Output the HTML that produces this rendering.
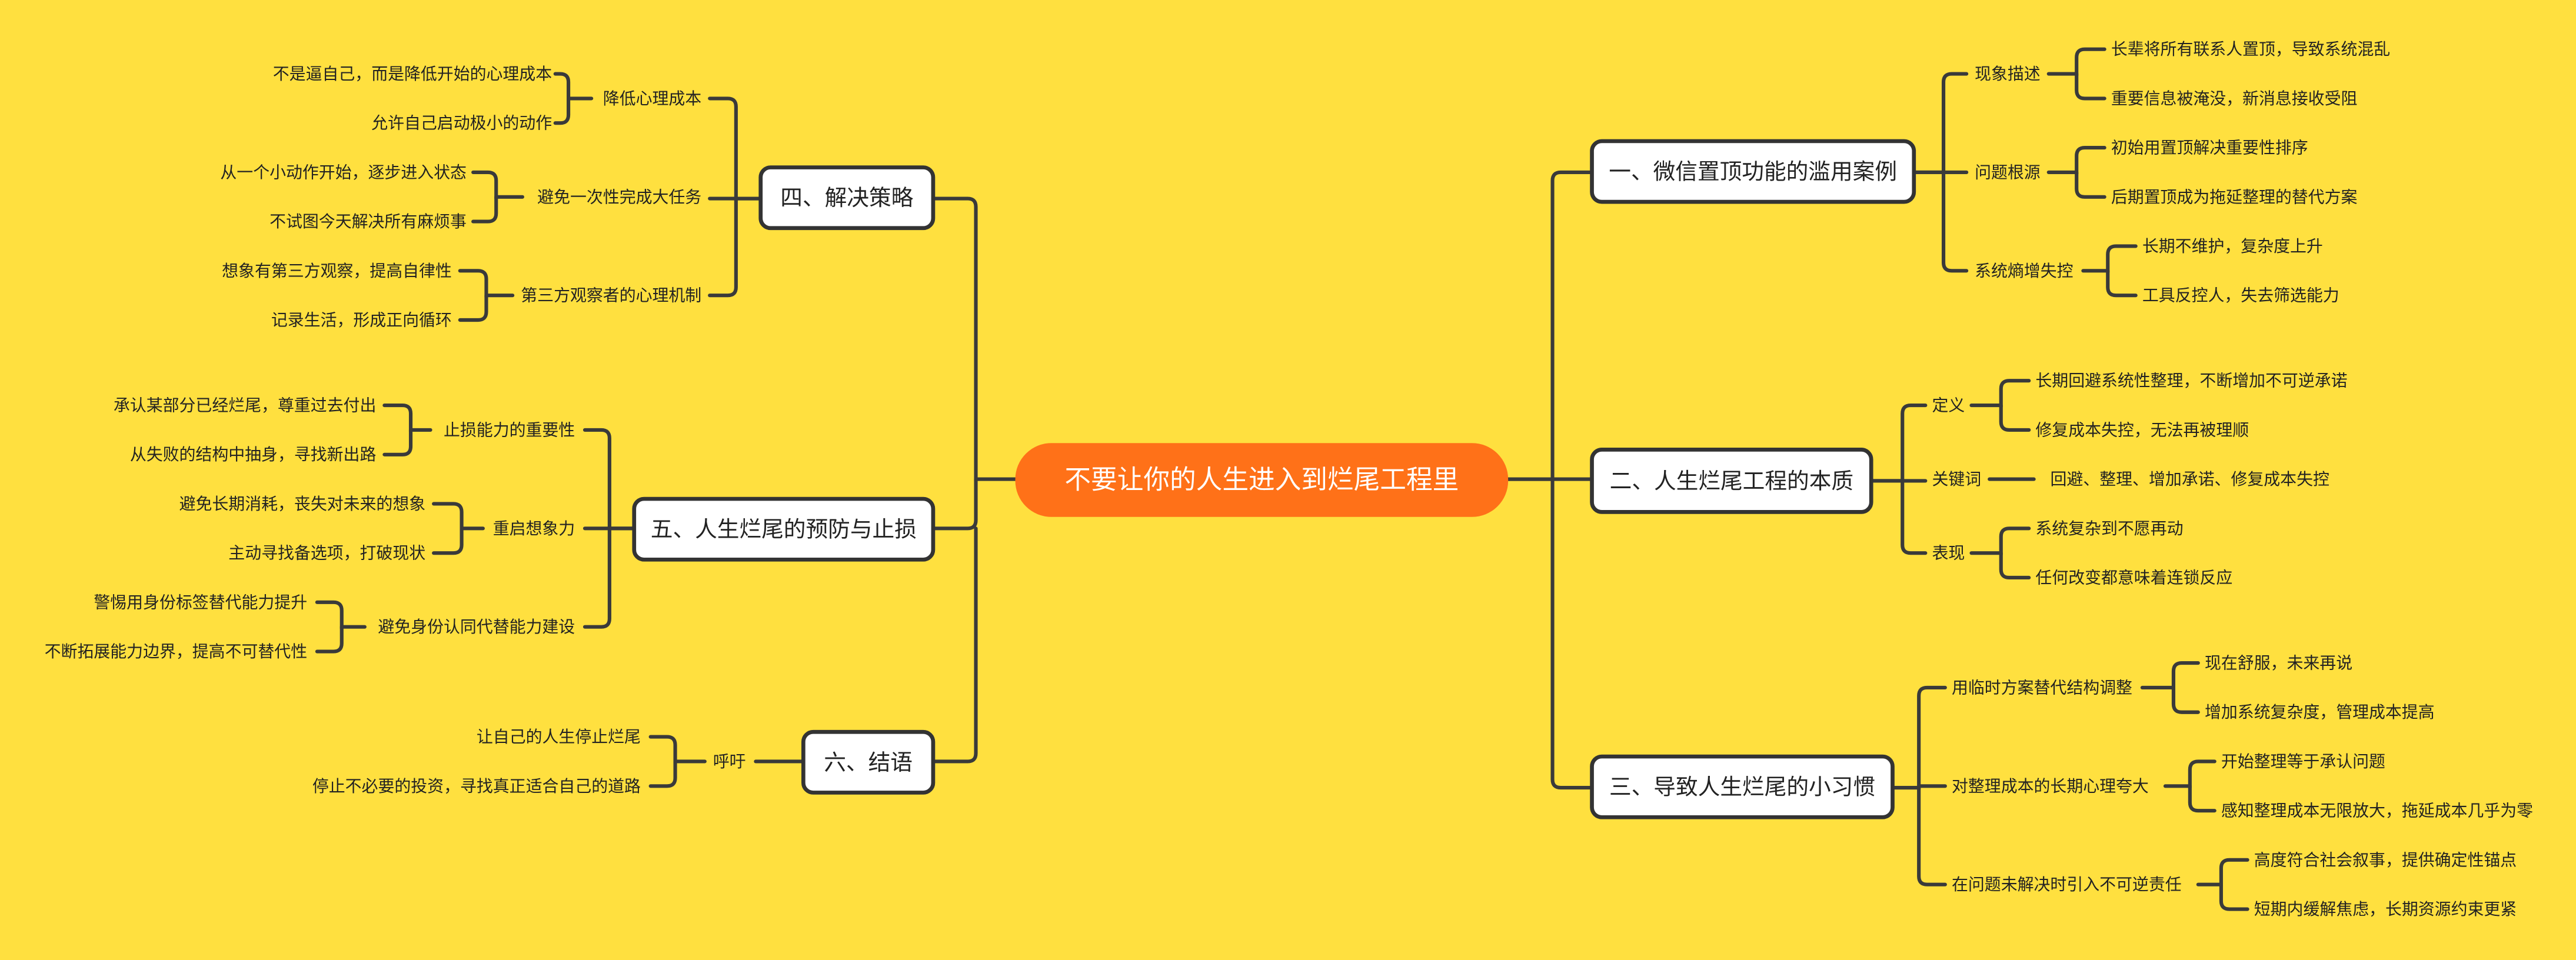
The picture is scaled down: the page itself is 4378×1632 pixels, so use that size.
<!DOCTYPE html>
<html><head><meta charset="utf-8"><style>
html,body{margin:0;padding:0;background:#FFE03F;}
svg{display:block;}
text{font-family:"Liberation Sans","Noto Sans CJK SC",sans-serif;fill:#222;dominant-baseline:central;}
.l{font-size:10px;}
.k{font-size:10px;}
.m{font-size:13.5px;}
.r{text-anchor:end;}
path{fill:none;stroke:#3a3a3a;stroke-width:2.2;stroke-linecap:round;}
rect.n{fill:#fff;stroke:#333;stroke-width:2.4;}
</style></head><body>
<svg width="4378" height="1632" viewBox="0 0 1568 585" preserveAspectRatio="none" xmlns="http://www.w3.org/2000/svg">
<rect width="1568" height="585" fill="#FFE03F"/>
<path d="M918 292 H945 V110 Q945 105 950 105 H969"/>
<path d="M918 292 H969"/>
<path d="M945 292 V475 Q945 480 950 480 H969"/>
<path d="M618 292 H594 V126 Q594 121 589 121 H568"/>
<path d="M594 292 V317 Q594 322 589 322 H568"/>
<path d="M594 322 V459 Q594 464 589 464 H568"/>

<path d="M1165 105 H1183 V50 Q1183 45 1188 45 H1197"/>
<path d="M1165 105 H1197"/>
<path d="M1183 105 V160 Q1183 165 1188 165 H1197"/>
<path d="M1247 45 H1264 V35 Q1264 30 1269 30 H1281"/>
<path d="M1264 45 V55 Q1264 60 1269 60 H1281"/>
<path d="M1247 105 H1264 V95 Q1264 90 1269 90 H1281"/>
<path d="M1264 105 V115 Q1264 120 1269 120 H1281"/>
<path d="M1268 165 H1283 V155 Q1283 150 1288 150 H1300"/>
<path d="M1283 165 V175 Q1283 180 1288 180 H1300"/>

<path d="M1139 293 H1158 V252 Q1158 247 1163 247 H1172"/>
<path d="M1139 293 H1172"/>
<path d="M1158 293 V332 Q1158 337 1163 337 H1172"/>
<path d="M1200 247 H1218 V237 Q1218 232 1223 232 H1235"/>
<path d="M1218 247 V257 Q1218 262 1223 262 H1235"/>
<path d="M1211 292 H1238"/>
<path d="M1200 337 H1218 V327 Q1218 322 1223 322 H1235"/>
<path d="M1218 337 V347 Q1218 352 1223 352 H1235"/>

<path d="M1152 480 H1168 V424 Q1168 419 1173 419 H1184"/>
<path d="M1152 480 H1168 V534 Q1168 539 1173 539 H1184"/>
<path d="M1168 479 H1184"/>
<path d="M1304 419 H1323 V409 Q1323 404 1328 404 H1338"/>
<path d="M1323 419 V429 Q1323 434 1328 434 H1338"/>
<path d="M1318 479 H1333 V469 Q1333 464 1338 464 H1348"/>
<path d="M1333 479 V489 Q1333 494 1338 494 H1348"/>
<path d="M1338 539 H1352 V529 Q1352 524 1357 524 H1368"/>
<path d="M1352 539 V549 Q1352 554 1357 554 H1368"/>

<path d="M463 121 H448 V65 Q448 60 443 60 H432"/>
<path d="M463 121 H432"/>
<path d="M448 121 V175 Q448 180 443 180 H432"/>
<path d="M360 60 H346 V50 Q346 45 341 45 H338"/>
<path d="M346 60 V70 Q346 75 341 75 H338"/>
<path d="M318 120 H302 V110 Q302 105 297 105 H288"/>
<path d="M302 120 V130 Q302 135 297 135 H288"/>
<path d="M312 180 H296 V170 Q296 165 291 165 H280"/>
<path d="M296 180 V190 Q296 195 291 195 H280"/>

<path d="M386 322 H371 V267 Q371 262 366 262 H356"/>
<path d="M386 322 H356"/>
<path d="M371 322 V377 Q371 382 366 382 H356"/>
<path d="M262 262 H250 V252 Q250 247 245 247 H234"/>
<path d="M250 262 V272 Q250 277 245 277 H234"/>
<path d="M294 322 H281 V312 Q281 307 276 307 H264"/>
<path d="M281 322 V332 Q281 337 276 337 H264"/>
<path d="M222 382 H208 V372 Q208 367 203 367 H193"/>
<path d="M208 382 V392 Q208 397 203 397 H193"/>

<path d="M489 464 H460"/>
<path d="M429 464 H411 V454 Q411 449 406 449 H396"/>
<path d="M411 464 V474 Q411 479 406 479 H396"/>

<rect x="618" y="270" width="300" height="45" rx="22" fill="#FF7118"/>
<text x="768" y="292.5" style="font-size:16px;fill:#fff;text-anchor:middle;">不要让你的人生进入到烂尾工程里</text>

<rect class="n" x="969" y="86" width="196" height="37" rx="6"/>
<text class="m" x="1067" y="104.5" text-anchor="middle">一、微信置顶功能的滥用案例</text>
<rect class="n" x="969" y="274" width="170" height="38" rx="6"/>
<text class="m" x="1054" y="293" text-anchor="middle">二、人生烂尾工程的本质</text>
<rect class="n" x="969" y="461" width="183" height="37" rx="6"/>
<text class="m" x="1060.5" y="479.5" text-anchor="middle">三、导致人生烂尾的小习惯</text>
<rect class="n" x="463" y="102" width="105" height="37" rx="6"/>
<text class="m" x="515.5" y="120.5" text-anchor="middle">四、解决策略</text>
<rect class="n" x="386" y="304" width="182" height="37" rx="6"/>
<text class="m" x="477" y="322.5" text-anchor="middle">五、人生烂尾的预防与止损</text>
<rect class="n" x="489" y="446" width="79" height="37" rx="6"/>
<text class="m" x="528.5" y="464.5" text-anchor="middle">六、结语</text>

<text class="k" x="1202" y="45">现象描述</text>
<text class="k" x="1202" y="105">问题根源</text>
<text class="k" x="1202" y="165">系统熵增失控</text>
<text class="l" x="1285" y="30">长辈将所有联系人置顶，导致系统混乱</text>
<text class="l" x="1285" y="60">重要信息被淹没，新消息接收受阻</text>
<text class="l" x="1285" y="90">初始用置顶解决重要性排序</text>
<text class="l" x="1285" y="120">后期置顶成为拖延整理的替代方案</text>
<text class="l" x="1304" y="150">长期不维护，复杂度上升</text>
<text class="l" x="1304" y="180">工具反控人，失去筛选能力</text>

<text class="k" x="1176" y="247">定义</text>
<text class="k" x="1176" y="292">关键词</text>
<text class="k" x="1176" y="337">表现</text>
<text class="l" x="1239" y="232">长期回避系统性整理，不断增加不可逆承诺</text>
<text class="l" x="1239" y="262">修复成本失控，无法再被理顺</text>
<text class="l" x="1248" y="292">回避、整理、增加承诺、修复成本失控</text>
<text class="l" x="1239" y="322">系统复杂到不愿再动</text>
<text class="l" x="1239" y="352">任何改变都意味着连锁反应</text>

<text class="k" x="1188" y="419">用临时方案替代结构调整</text>
<text class="k" x="1188" y="479">对整理成本的长期心理夸大</text>
<text class="k" x="1188" y="539">在问题未解决时引入不可逆责任</text>
<text class="l" x="1342" y="404">现在舒服，未来再说</text>
<text class="l" x="1342" y="434">增加系统复杂度，管理成本提高</text>
<text class="l" x="1352" y="464">开始整理等于承认问题</text>
<text class="l" x="1352" y="494">感知整理成本无限放大，拖延成本几乎为零</text>
<text class="l" x="1372" y="524">高度符合社会叙事，提供确定性锚点</text>
<text class="l" x="1372" y="554">短期内缓解焦虑，长期资源约束更紧</text>

<text class="k r" x="427" y="60">降低心理成本</text>
<text class="k r" x="427" y="120">避免一次性完成大任务</text>
<text class="k r" x="427" y="180">第三方观察者的心理机制</text>
<text class="l r" x="336" y="45">不是逼自己，而是降低开始的心理成本</text>
<text class="l r" x="336" y="75">允许自己启动极小的动作</text>
<text class="l r" x="284" y="105">从一个小动作开始，逐步进入状态</text>
<text class="l r" x="284" y="135">不试图今天解决所有麻烦事</text>
<text class="l r" x="275" y="165">想象有第三方观察，提高自律性</text>
<text class="l r" x="275" y="195">记录生活，形成正向循环</text>

<text class="k r" x="350" y="262">止损能力的重要性</text>
<text class="k r" x="350" y="322">重启想象力</text>
<text class="k r" x="350" y="382">避免身份认同代替能力建设</text>
<text class="l r" x="229" y="247">承认某部分已经烂尾，尊重过去付出</text>
<text class="l r" x="229" y="277">从失败的结构中抽身，寻找新出路</text>
<text class="l r" x="259" y="307">避免长期消耗，丧失对未来的想象</text>
<text class="l r" x="259" y="337">主动寻找备选项，打破现状</text>
<text class="l r" x="187" y="367">警惕用身份标签替代能力提升</text>
<text class="l r" x="187" y="397">不断拓展能力边界，提高不可替代性</text>

<text class="k r" x="454" y="464">呼吁</text>
<text class="l r" x="390" y="449">让自己的人生停止烂尾</text>
<text class="l r" x="390" y="479">停止不必要的投资，寻找真正适合自己的道路</text>
</svg>
</body></html>
